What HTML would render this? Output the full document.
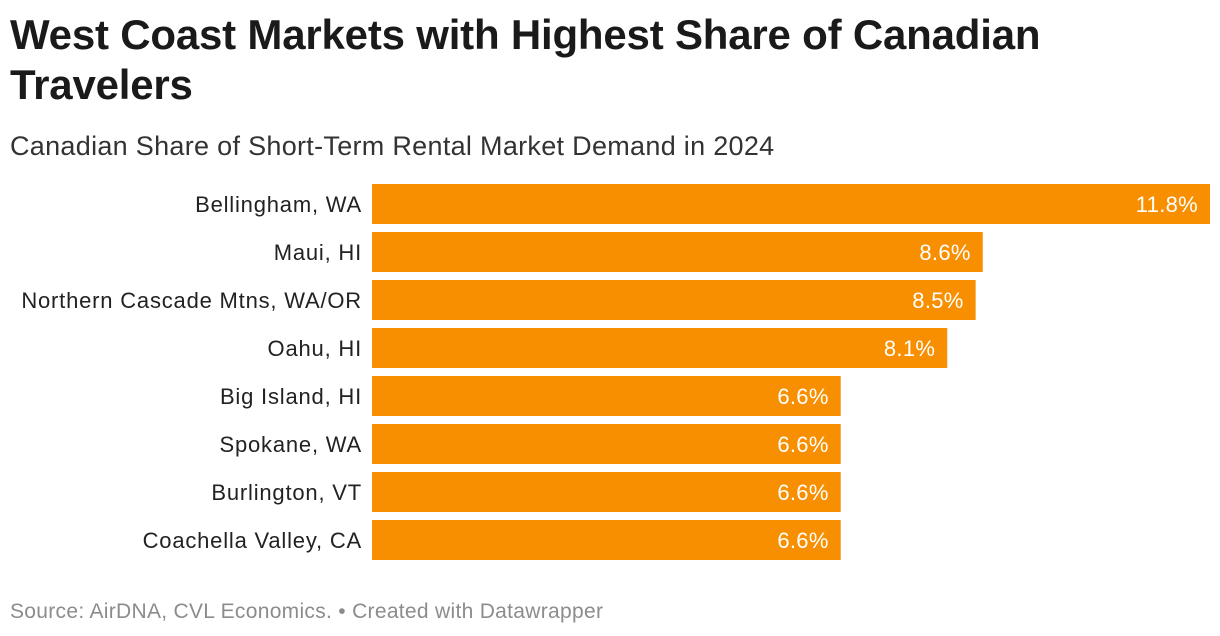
<!DOCTYPE html>
<html><head><meta charset="utf-8"><style>
body{margin:0;width:1220px;height:636px;background:#fff;font-family:"Liberation Sans",sans-serif;position:relative;overflow:hidden}
#title{position:absolute;left:10px;top:10px;width:1100px;font-size:42px;font-weight:bold;line-height:50px;color:#1a1a1a;letter-spacing:-0.2px}
#sub{position:absolute;left:10px;top:131px;font-size:27px;letter-spacing:0.3px;color:#333}
#src{position:absolute;left:10px;top:600px;font-size:21px;letter-spacing:0.3px;color:#8c8c8c}
svg{position:absolute;left:0;top:0}
</style></head><body>
<div id="title">West Coast Markets with Highest Share of Canadian Travelers</div>
<div id="sub">Canadian Share of Short-Term Rental Market Demand in 2024</div>
<div id="src">Source: AirDNA, CVL Economics. • Created with Datawrapper</div>
<svg id="chart" width="1220" height="636"></svg>
<script>
const categories=["Bellingham, WA","Maui, HI","Northern Cascade Mtns, WA/OR","Oahu, HI","Big Island, HI","Spokane, WA","Burlington, VT","Coachella Valley, CA"];
const values=[11.8,8.6,8.5,8.1,6.6,6.6,6.6,6.6];
const valueLabels=["11.8%","8.6%","8.5%","8.1%","6.6%","6.6%","6.6%","6.6%"];
const svg=document.getElementById('chart');
const NS='http://www.w3.org/2000/svg';
const x0=372,x1=1210,maxV=Math.max(...values);
const xs=v=>x0+(v/maxV)*(x1-x0);
const ys=i=>184+i*48;
const bh=40;
categories.forEach((c,i)=>{
  const r=document.createElementNS(NS,'rect');
  
  
  r.setAttribute('x',x0);r.setAttribute('y',ys(i));
  r.setAttribute('width',xs(values[i])-x0);r.setAttribute('height',bh);
  r.setAttribute('fill','#f78f00');svg.appendChild(r);
  const l=document.createElementNS(NS,'text');
  
  
  l.setAttribute('x',362);l.setAttribute('y',ys(i)+bh/2+8);
  l.setAttribute('text-anchor','end');l.setAttribute('font-size','22');l.setAttribute('fill','#222');
  l.setAttribute('letter-spacing','0.8');
  l.setAttribute('font-family','Liberation Sans, sans-serif');
  l.textContent=c;svg.appendChild(l);
  const v=document.createElementNS(NS,'text');
  
  
  v.setAttribute('x',xs(values[i])-12);v.setAttribute('y',ys(i)+bh/2+8);
  v.setAttribute('text-anchor','end');v.setAttribute('font-size','22');v.setAttribute('fill','#fff');
  v.setAttribute('letter-spacing','0.3');
  v.setAttribute('font-family','Liberation Sans, sans-serif');
  v.textContent=valueLabels[i];svg.appendChild(v);
});
</script>
</body></html>
